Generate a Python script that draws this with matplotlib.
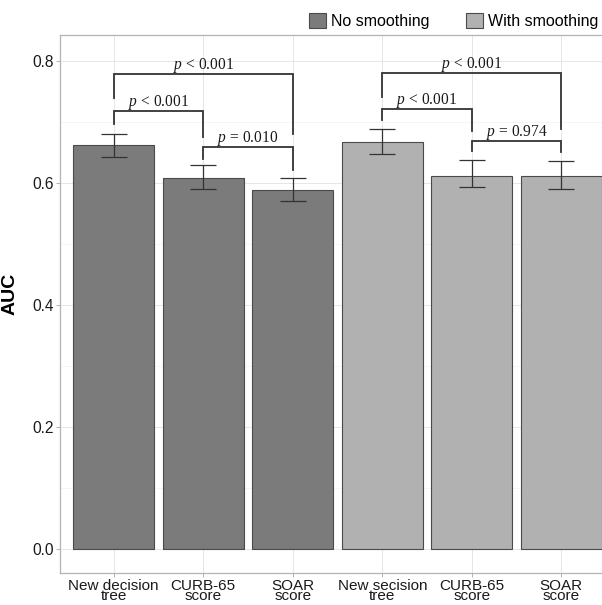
import matplotlib
matplotlib.use("Agg")
import matplotlib.pyplot as plt
import numpy as np

plt.rcParams['font.family'] = ['Liberation Sans', 'DejaVu Sans']
plt.rcParams['mathtext.fontset'] = 'custom'
plt.rcParams['mathtext.it'] = 'Liberation Serif:italic'
plt.rcParams['mathtext.rm'] = 'Liberation Serif'

# ---- data ----
categories = ["New decision\ntree", "CURB-65\nscore", "SOAR\nscore",
              "New secision\ntree", "CURB-65\nscore", "SOAR\nscore"]
groups = ["No smoothing", "No smoothing", "No smoothing",
          "With smoothing", "With smoothing", "With smoothing"]
auc = [0.662, 0.609, 0.589, 0.667, 0.612, 0.612]
ci_low = [0.643, 0.590, 0.571, 0.648, 0.593, 0.590]
ci_high = [0.681, 0.629, 0.608, 0.688, 0.638, 0.636]

# comparisons: (left bar, right bar, bracket height, left leg end, right leg end, label)
cmp_left = [0, 0, 1, 3, 3, 4]
cmp_right = [2, 1, 2, 5, 4, 5]
cmp_top = [0.779, 0.718, 0.659, 0.780, 0.722, 0.669]
cmp_left_end = [0.739, 0.697, 0.640, 0.741, 0.704, 0.652]
cmp_right_end = [0.680, 0.675, 0.622, 0.688, 0.686, 0.650]
cmp_label = ["< 0.001", "< 0.001", "= 0.010", "< 0.001", "< 0.001", "= 0.974"]

group_colors = {"No smoothing": "#7b7b7b", "With smoothing": "#b1b1b1"}

fig = plt.figure(figsize=(6.02, 6.05), dpi=100)
ax = fig.add_axes([60/602, 32/605, 555/602, 538/605])

x = np.arange(1, len(categories) + 1)
colors = [group_colors[g] for g in groups]
bars = ax.bar(x, auc, width=0.9, color=colors, edgecolor="#4a4a4a",
              linewidth=0.8, zorder=2)

auc_a = np.array(auc)
yerr = np.vstack([auc_a - np.array(ci_low), np.array(ci_high) - auc_a])
ax.errorbar(x, auc, yerr=yerr, fmt='none', ecolor="#333333", elinewidth=0.9,
            capsize=9.6, capthick=0.9, zorder=3)

for i, j, yt, yl, yr, lab in zip(cmp_left, cmp_right, cmp_top, cmp_left_end,
                                  cmp_right_end, cmp_label):
    xi, xj = x[i], x[j]
    ax.plot([xi, xi, xj, xj], [yl, yt, yt, yr], color="#333333", lw=1.3,
            solid_joinstyle='miter', zorder=4)
    ax.text((xi + xj) / 2, yt + 0.008, r"$p$ " + lab, ha='center',
            va='baseline', fontsize=11.2, family='Liberation Serif', color="#1a1a1a")

ax.set_xlim(0.4, 6.6)
ax.set_ylim(-0.0393, 0.8426)
ax.set_xticks(x)
ax.set_xticklabels(categories, fontsize=11, color="#1a1a1a", linespacing=0.7)
ax.set_yticks([0.0, 0.2, 0.4, 0.6, 0.8])
ax.set_yticklabels(["0.0", "0.2", "0.4", "0.6", "0.8"], fontsize=11.2, color="#1a1a1a")
ax.set_yticks([0.1, 0.3, 0.5, 0.7], minor=True)
ax.tick_params(axis='both', which='major', length=3, width=0.7, color="#b3b3b3", pad=1.5)
ax.tick_params(axis='x', which='major', pad=1)
ax.tick_params(axis='y', which='minor', length=0)
ax.grid(True, which='major', color="#e6e6e6", lw=0.7, zorder=0)
ax.grid(True, which='minor', axis='y', color="#f1f1f1", lw=0.5, zorder=0)
ax.set_axisbelow(True)
for s in ax.spines.values():
    s.set_color("#b3b3b3")
    s.set_linewidth(0.9)

ax.set_ylabel("AUC", fontsize=14, fontweight='bold')
ax.yaxis.set_label_coords(-0.074, 0.5186)

handles = [bars[0], bars[3]]
fig.legend(handles, ["No smoothing", "With smoothing"], loc='center left',
           bbox_to_anchor=(309/602, 1 - 21/605), bbox_transform=fig.transFigure,
           ncol=2, frameon=False, fontsize=11.5, handlelength=1.05, handleheight=1.05,
           handletextpad=0.33, columnspacing=2.3, borderpad=0, borderaxespad=0)

fig.savefig("out.png", dpi=100)
